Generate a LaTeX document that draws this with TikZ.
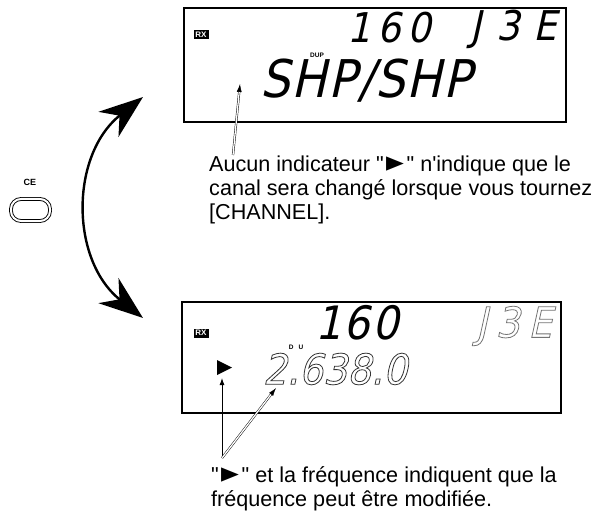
\documentclass[tikz,border=0pt]{standalone}
\usepackage{fontspec}
\usepackage{graphicx}
\usetikzlibrary{arrows.meta}
\newfontfamily\ann{Liberation Sans}
\newfontfamily\sym{DejaVu Sans}
\newfontfamily\lcd{DejaVu Sans}[FakeSlant=0.22,FakeStretch=0.9]
\newfontfamily\lcdA{DejaVu Sans}[FakeSlant=0.22,FakeStretch=0.9,LetterSpace=16]
\newfontfamily\lcdB{DejaVu Sans}[FakeSlant=0.22,FakeStretch=0.9,LetterSpace=35]
\newfontfamily\lcdC{DejaVu Sans}[FakeSlant=0.22,FakeStretch=0.9,LetterSpace=5]
\newfontfamily\lcdD{DejaVu Sans}[FakeSlant=0.22,FakeStretch=0.9,LetterSpace=20]
\newfontfamily\lcdE{DejaVu Sans}[FakeSlant=0.22,FakeStretch=0.9,LetterSpace=3]
\newcommand\outlinetext[1]{\special{pdf:literal direct 1 Tr 0.8 w}#1\special{pdf:literal direct 0 Tr}}
\newcommand\pointer{\kern2.5pt\smash{\scalebox{1.45}[1.8]{\sym\fontsize{16}{16}\selectfont ►}}\kern2.5pt}
\begin{document}
\begin{tikzpicture}[x=1pt,y=-1pt,
  lcdbox/.style={draw, line width=1.1pt, inner sep=0pt},
  rxtag/.style={fill=black, text=white, font=\ann\bfseries\fontsize{8}{8}\selectfont, inner sep=0.5pt, minimum width=15pt, minimum height=9pt},
  small/.style={font=\ann\bfseries\fontsize{6.5}{7}\selectfont, inner sep=0pt},
  seg/.style={inner sep=0pt},
  note/.style={font=\ann\fontsize{21.6}{24}\selectfont, align=left, inner sep=0pt, anchor=north west},
  hollowarrow/.style={double=white, double distance=1.3pt, line width=0.45pt, -{Latex[length=8pt,width=5pt]}},
  solidarrow/.style={line width=0.9pt, -{Latex[length=7pt,width=5pt]}},
  bigarc/.style={line width=2.4pt, {Stealth[length=44pt,width=32pt,inset=14pt]}-{Stealth[length=44pt,width=32pt,inset=14pt]}}
]
\useasboundingbox (0,0) rectangle (594,513);

% CE key
\node[small, font=\ann\bfseries\fontsize{9}{10}\selectfont] (celabel) at (30,182) {CE};
\node[draw, double, double distance=2pt, line width=0.9pt, rounded corners=10pt,
      minimum width=39pt, minimum height=22pt, inner sep=0pt] (cebtn) at (30.5,210) {};

% big double arrow
\coordinate (arctop) at (143,97);
\coordinate (arcbot) at (143,318);
\draw[bigarc] (arctop) .. controls (70,155) and (70,260) .. (arcbot);

% top display
\node[lcdbox, minimum width=382pt, minimum height=114pt] (topdisp) at (375,65) {};
\node[rxtag] (rx1) at (201,35) {RX};
\node[seg, font=\lcdA\fontsize{41}{41}\selectfont] (ch1) at (389,28) {160};
\node[seg, font=\lcdB\fontsize{41}{41}\selectfont] (mode1) at (514,29) {J3E};
\node[small] (dup) at (317,55) {DUP};
\node[seg, font=\lcdE\fontsize{52}{52}\selectfont] (name1) at (366,81) {SHP/SHP};

% bottom display
\node[lcdbox, minimum width=379pt, minimum height=111pt] (botdisp) at (371.5,357.5) {};
\node[rxtag] (rx2) at (201,333) {RX};
\node[seg, font=\lcdC\fontsize{46}{46}\selectfont] (ch2) at (357,323) {160};
\node[seg, font=\lcdD\fontsize{42}{42}\selectfont, text=black!55] (mode2) at (514,326) {\outlinetext{J3E}};
\node[small] (du) at (296,347) {D\hspace{5pt}U};
\node[seg, font=\lcd\fontsize{42}{42}\selectfont, text=black!80] (freq) at (335,369) {\outlinetext{2.638.0}};
\fill (217,360) -- (232,367.5) -- (217,375) -- cycle;

% notes
\node[note] (note1) at (209,155.2) {Aucun indicateur "\pointer" n'indique que le\\canal sera changé lorsque vous tournez\\{[CHANNEL].}};
\node[note] (note2) at (211,466) {"\pointer" et la fréquence indiquent que la\\fréquence peut être modifiée.};

% leaders
\coordinate (n1tail) at (233,155);
\coordinate (n1tip) at (240,84);
\draw[hollowarrow] (n1tail) -- (n1tip);

\coordinate (apex) at (222,458);
\coordinate (tritip) at (222,378);
\coordinate (freqtip) at (276,388);
\draw[solidarrow] (apex) -- (tritip);
\draw[hollowarrow] (apex) -- (freqtip);
\end{tikzpicture}
\end{document}
